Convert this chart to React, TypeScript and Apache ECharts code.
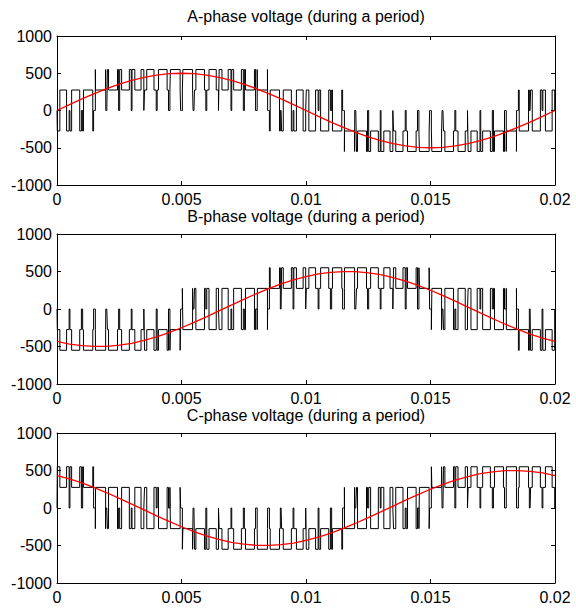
import React, { useEffect, useRef } from "react";
import * as echarts from "echarts";

// Axis ticks
const xTicks = [0, 0.005, 0.01, 0.015, 0.02];
const yTicks = [-1000, -500, 0, 500, 1000];

const panelTitles = [
  "A-phase voltage (during a period)",
  "B-phase voltage (during a period)",
  "C-phase voltage (during a period)",
];

const CARRIER_PERIOD = 0.0005; // s, one switching cycle
const DC_LINK = 825; // V
const SAMPLE_STEP = 0.0005; // s, spacing of the fundamental samples

// On-time of each inverter leg in every carrier cycle, % (40 cycles per period)
const legOnA = [54, 65, 75, 84, 90, 93, 95, 100, 100, 100, 100, 100, 100, 95, 93, 90, 84, 75, 65, 54, 46, 35, 25, 17, 11, 7, 5, 0, 0, 0, 0, 0, 0, 5, 7, 11, 17, 25, 35, 46];
const legOnB = [0, 0, 0, 0, 0, 0, 0, 6, 9, 14, 22, 31, 42, 50, 62, 72, 81, 88, 92, 95, 100, 100, 100, 100, 100, 100, 100, 94, 91, 86, 78, 69, 58, 50, 38, 28, 19, 12, 8, 5];
const legOnC = [95, 92, 88, 81, 72, 62, 50, 42, 31, 22, 14, 9, 6, 0, 0, 0, 0, 0, 0, 0, 5, 8, 12, 19, 28, 38, 50, 58, 69, 78, 86, 91, 94, 100, 100, 100, 100, 100, 100, 100];

// Fundamental phase voltage, V, every 0.5 ms
const fundA = [0, 78, 155, 227, 294, 354, 405, 446, 476, 494, 500, 494, 476, 446, 405, 354, 294, 227, 155, 78, 0, -78, -155, -227, -294, -354, -405, -446, -476, -494, -500, -494, -476, -446, -405, -354, -294, -227, -155, -78, 0];
const fundB = [-433, -467, -489, -499, -497, -483, -457, -419, -372, -315, -250, -179, -104, -26, 52, 129, 203, 272, 335, 389, 433, 467, 489, 499, 497, 483, 457, 419, 372, 315, 250, 179, 104, 26, -52, -129, -203, -272, -335, -389, -433];
const fundC = [433, 389, 335, 272, 203, 129, 52, -26, -104, -179, -250, -315, -372, -419, -457, -483, -497, -499, -489, -467, -433, -389, -335, -272, -203, -129, -52, 26, 104, 179, 250, 315, 372, 419, 457, 483, 497, 499, 489, 467, 433];

// Phase-to-neutral voltages from the leg switching pattern of each carrier cycle
function buildPhaseTraces(): number[][][] {
  const traces: number[][][] = [[], [], []];
  for (let k = 0; k < legOnA.length; k++) {
    const t0 = k * CARRIER_PERIOD;
    const t1 = t0 + CARRIER_PERIOD;
    const tc = t0 + CARRIER_PERIOD / 2;
    const duty = [legOnA[k], legOnB[k], legOnC[k]].map((d) => d / 100);
    // the zero vector always sits at the cycle edges
    const edgeOn = Math.max(...duty) >= 1;
    const half = duty.map((d) => ((edgeOn ? 1 - d : d) * CARRIER_PERIOD) / 2);
    const cuts = [t0, t1];
    half.forEach((h) => {
      if (h > 0 && h < CARRIER_PERIOD / 2) cuts.push(tc - h, tc + h);
    });
    const times = Array.from(new Set(cuts.map((t) => +t.toFixed(9)))).sort((p, q) => p - q);
    for (let i = 0; i + 1 < times.length; i++) {
      const a = times[i];
      const b = times[i + 1];
      const mid = (a + b) / 2;
      const s = half.map((h) => {
        const inside = Math.abs(mid - tc) < h;
        return edgeOn ? (inside ? 0 : 1) : inside ? 1 : 0;
      });
      const unit = DC_LINK / 3;
      const v = [
        unit * (2 * s[0] - s[1] - s[2]),
        unit * (2 * s[1] - s[0] - s[2]),
        unit * (2 * s[2] - s[0] - s[1]),
      ];
      for (let p = 0; p < 3; p++) {
        traces[p].push([a, v[p]], [b, v[p]]);
      }
    }
  }
  return traces;
}

const FONT = "'Liberation Sans', Arial, Helvetica, sans-serif";

export default function App() {
  const ref = useRef<HTMLDivElement>(null);

  useEffect(() => {
    if (!ref.current) return;
    const chart = echarts.init(ref.current, null, { renderer: "svg" });

    const traces = buildPhaseTraces();
    const fundamentals = [fundA, fundB, fundC].map((arr) =>
      arr.map((v, j) => [j * SAMPLE_STEP, v])
    );

    const panels = [
      { top: 36, height: 149, titleTop: 8 },
      { top: 234, height: 150, titleTop: 208 },
      { top: 433, height: 150, titleTop: 407 },
    ];

    const axisLine = { show: true, onZero: false, lineStyle: { color: "#000", width: 1 } };
    const axisTick = { show: true, inside: true, length: 4, lineStyle: { color: "#000", width: 1 } };
    const labelStyle = { color: "#000", fontSize: 16, lineHeight: 16, fontFamily: FONT };

    const xMin = xTicks[0];
    const xMax = xTicks[xTicks.length - 1];
    const xStep = xTicks[1] - xTicks[0];
    const yMin = yTicks[0];
    const yMax = yTicks[yTicks.length - 1];
    const yStep = yTicks[1] - yTicks[0];

    const grid: any[] = [];
    const xAxis: any[] = [];
    const yAxis: any[] = [];
    const series: any[] = [];
    const title: any[] = [];

    panels.forEach((p, i) => {
      grid.push({ left: 57, width: 498, top: p.top, height: p.height, containLabel: false });
      title.push({
        text: panelTitles[i],
        left: 306,
        top: p.titleTop,
        textAlign: "center",
        padding: 0,
        textStyle: {
          fontSize: 16,
          lineHeight: 16,
          fontWeight: "normal",
          color: "#000",
          fontFamily: FONT,
        },
      });
      const xBase = {
        type: "value",
        gridIndex: i,
        min: xMin,
        max: xMax,
        interval: xStep,
        axisLine,
        axisTick,
        splitLine: { show: false },
      };
      xAxis.push({
        ...xBase,
        position: "bottom",
        axisLabel: {
          ...labelStyle,
          margin: 6,
          formatter: (v: number) => String(Number(v.toFixed(3))),
        },
      });
      xAxis.push({ ...xBase, position: "top", axisLabel: { show: false } });
      const yBase = {
        type: "value",
        gridIndex: i,
        min: yMin,
        max: yMax,
        interval: yStep,
        axisLine,
        axisTick,
        splitLine: { show: false },
      };
      yAxis.push({
        ...yBase,
        position: "left",
        axisLabel: { ...labelStyle, margin: 5, formatter: (v: number) => String(v) },
      });
      yAxis.push({ ...yBase, position: "right", axisLabel: { show: false } });

      series.push({
        type: "line",
        xAxisIndex: 2 * i,
        yAxisIndex: 2 * i,
        data: traces[i],
        showSymbol: false,
        symbol: "none",
        silent: true,
        lineStyle: { color: "#000", width: 1 },
        z: 2,
      });
      series.push({
        type: "line",
        xAxisIndex: 2 * i,
        yAxisIndex: 2 * i,
        data: fundamentals[i],
        showSymbol: false,
        symbol: "none",
        silent: true,
        lineStyle: { color: "#ff0000", width: 1.3 },
        z: 3,
      });
    });

    chart.setOption({
      animation: false,
      backgroundColor: "#fff",
      title,
      grid,
      xAxis,
      yAxis,
      series,
    });

    return () => chart.dispose();
  }, []);

  return (
    <div
      ref={ref}
      style={{ position: "fixed", left: 0, top: 0, width: 576, height: 608, background: "#fff" }}
    />
  );
}
